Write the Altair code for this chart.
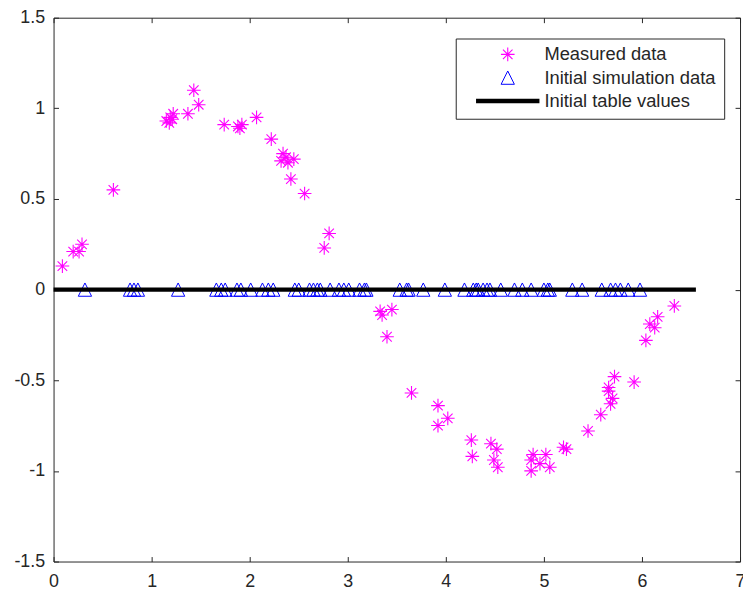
import altair as alt
import pandas as pd

# ---- data ----
meas_x = [0.09, 0.20, 0.26, 0.29, 0.61, 1.15, 1.18, 1.19, 1.21, 1.22, 1.37, 1.43, 1.48,
          1.74, 1.88, 1.90, 1.92, 2.07, 2.22, 2.32, 2.34, 2.37, 2.39, 2.42, 2.45, 2.56,
          2.76, 2.81, 3.33, 3.35, 3.40, 3.45, 3.65, 3.92, 3.92, 4.02, 4.26, 4.27, 4.46,
          4.49, 4.52, 4.53, 4.87, 4.87, 4.89, 4.96, 5.02, 5.06, 5.20, 5.23, 5.45, 5.58,
          5.66, 5.66, 5.68, 5.70, 5.72, 5.92, 6.04, 6.08, 6.13, 6.16, 6.33]
meas_y = [0.13, 0.21, 0.21, 0.25, 0.55, 0.93, 0.92, 0.95, 0.94, 0.97, 0.97, 1.10, 1.02,
          0.91, 0.90, 0.89, 0.91, 0.95, 0.83, 0.71, 0.75, 0.73, 0.70, 0.61, 0.72, 0.53,
          0.23, 0.31, -0.12, -0.14, -0.26, -0.11, -0.57, -0.64, -0.75, -0.71, -0.83, -0.92, -0.85,
          -0.94, -0.88, -0.98, -0.94, -1.00, -0.91, -0.96, -0.91, -0.98, -0.87, -0.88, -0.78, -0.69,
          -0.54, -0.56, -0.63, -0.60, -0.48, -0.51, -0.28, -0.19, -0.21, -0.15, -0.09]

sim_x = [0.32, 0.78, 0.82, 0.86, 1.27, 1.66, 1.71, 1.75, 1.87, 1.91, 2.01, 2.13, 2.19,
         2.24, 2.46, 2.50, 2.61, 2.65, 2.69, 2.72, 2.82, 2.91, 2.96, 3.01, 3.12, 3.17,
         3.19, 3.53, 3.60, 3.62, 3.77, 3.99, 4.19, 4.28, 4.31, 4.33, 4.38, 4.42, 4.45,
         4.56, 4.70, 4.78, 4.87, 5.00, 5.04, 5.06, 5.29, 5.39, 5.59, 5.68, 5.73, 5.78,
         5.86, 5.98]
sim_y = [0, 0, 0, 0, 0, 0, 0, 0, 0, 0, 0, 0, 0,
         0, 0, 0, 0, 0, 0, 0, 0, 0, 0, 0, 0, 0,
         0, 0, 0, 0, 0, 0, 0, 0, 0, 0, 0, 0, 0,
         0, 0, 0, 0, 0, 0, 0, 0, 0, 0, 0, 0, 0,
         0, 0]

table_x = [0.0, 6.55]
table_y = [0.0, 0.0]

series = ["Measured data", "Initial simulation data", "Initial table values"]
x_ticks = [0, 1, 2, 3, 4, 5, 6, 7]
y_ticks = [-1.5, -1, -0.5, 0, 0.5, 1, 1.5]

pts = pd.concat([
    pd.DataFrame({"x": meas_x, "y": meas_y, "series": series[0]}),
    pd.DataFrame({"x": sim_x, "y": sim_y, "series": series[1]}),
], ignore_index=True)
tbl = pd.DataFrame({"x": table_x, "y": table_y, "series": series[2]})

FONT = "Liberation Sans"
INK = "#262626"
asterisk = "M-1,0L1,0M0,-1L0,1M-0.7,-0.7L0.7,0.7M-0.7,0.7L0.7,-0.7"
triangle = "M0,-1L-1,1L1,1Z"

color_scale = alt.Scale(type="ordinal", domain=series, range=["#ff00ff", "#0000ff", "#000000"])
shape_scale = alt.Scale(type="ordinal", domain=series, range=[asterisk, triangle, "stroke"])
size_scale = alt.Scale(type="ordinal", domain=series, range=[190, 180, 4096])
sw_scale = alt.Scale(type="ordinal", domain=series, range=[1.1, 1, 4.5])

legend = alt.Legend(
    title=None, orient="none", legendX=406, legendY=21, columns=1,
    clipHeight=16, rowPadding=4.5, padding=8, symbolOffset=10, labelOffset=2.5,
    fillColor="white", strokeColor=INK, labelFont=FONT, labelFontSize=18.5,
    labelColor=INK, labelLimit=300,
)

x_scale = alt.Scale(domain=[0, 7], nice=False, zero=False)
y_scale = alt.Scale(domain=[-1.5, 1.5], nice=False, zero=False)

def ax(orient, labels, pad):
    return alt.Axis(
        orient=orient, values=x_ticks if orient in ("bottom", "top") else y_ticks,
        offset=-5, tickSize=5, domain=False, grid=False, title=None,
        labels=labels, labelPadding=pad, labelFont=FONT, labelFontSize=18,
        labelColor=INK, tickColor=INK, labelFlush=False,
        labelExpr="'' + datum.value",
    )

points = alt.Chart(pts).mark_point(filled=False, opacity=1).encode(
    x=alt.X("x:Q", scale=x_scale, axis=ax("bottom", True, 11)),
    y=alt.Y("y:Q", scale=y_scale, axis=ax("left", True, 9)),
    color=alt.Color("series:N", scale=color_scale, legend=legend),
    shape=alt.Shape("series:N", scale=shape_scale, legend=legend),
    size=alt.Size("series:N", scale=size_scale, legend=legend),
    strokeWidth=alt.StrokeWidth("series:N", scale=sw_scale, legend=legend),
)

line = alt.Chart(tbl).mark_line(strokeCap="butt").encode(
    x=alt.X("x:Q", scale=x_scale, axis=ax("top", False, 8)),
    y=alt.Y("y:Q", scale=y_scale, axis=ax("right", False, 8)),
    color=alt.Color("series:N", scale=color_scale, legend=legend),
    strokeWidth=alt.StrokeWidth("series:N", scale=sw_scale, legend=legend),
)

chart = alt.layer(points, line).properties(
    width=693, height=549,
    padding={"left": 46, "top": 7, "right": 3, "bottom": 32},
    autosize=alt.AutoSizeParams(type="none"),
    background="white",
).configure_view(stroke=INK, strokeWidth=1)

chart.save("out.html", embed_options={"renderer": "svg", "actions": False})
